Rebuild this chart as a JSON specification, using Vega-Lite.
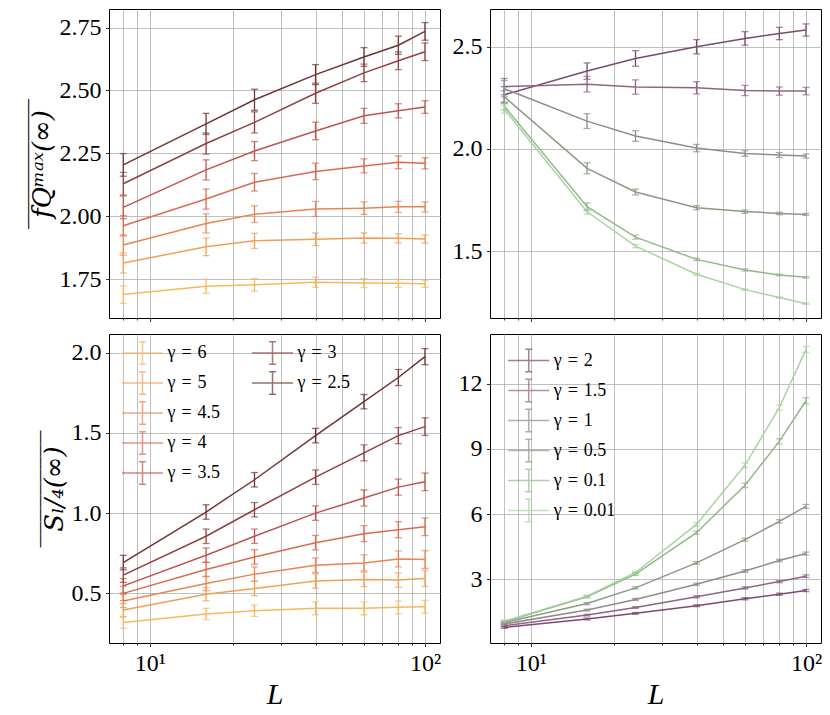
{
  "$schema": "https://vega.github.io/schema/vega-lite/v6.json",
  "background": "white",
  "padding": {"left": 25, "top": 8, "right": 5, "bottom": 5},
  "config": {
    "font": "Liberation Serif",
    "view": {"stroke": "black", "strokeWidth": 1},
    "axis": {
      "domain": false, "grid": true, "gridColor": "#b0b0b0", "gridWidth": 0.8,
      "tickColor": "black", "tickWidth": 0.8, "tickSize": 3.5,
      "labelFont": "Liberation Serif", "labelFontSize": 24, "labelColor": "black", "labelPadding": 4.5,
      "titleFont": "DejaVu Serif", "titleFontWeight": "normal", "titleColor": "black", "titleFontSize": 26,
      "titleLineHeight": 3
    },
    "legend": {
      "orient": "none", "title": null,
      "symbolType": "M-1.58,0H1.58M0,-0.86V0.86M-0.27,-0.86H0.27M-0.27,0.86H0.27",
      "symbolSize": 676, "symbolStrokeWidth": 1.5, "symbolFillColor": "transparent",
      "labelFont": "Liberation Serif", "labelFontSize": 18, "labelColor": "black",
      "labelOffset": 11, "rowPadding": 0, "padding": 0
    }
  },
  "datasets": {
    "d": [
      {"q": "f", "g": "2.5", "L": 8, "v": 2.204, "e": 0.045}, {"q": "f", "g": "2.5", "L": 16, "v": 2.367, "e": 0.042}, {"q": "f", "g": "2.5", "L": 24, "v": 2.463, "e": 0.042}, {"q": "f", "g": "2.5", "L": 40, "v": 2.563, "e": 0.04}, {"q": "f", "g": "2.5", "L": 60, "v": 2.633, "e": 0.037}, {"q": "f", "g": "2.5", "L": 80, "v": 2.68, "e": 0.036}, {"q": "f", "g": "2.5", "L": 100, "v": 2.735, "e": 0.035},
      {"q": "f", "g": "3", "L": 8, "v": 2.129, "e": 0.045}, {"q": "f", "g": "3", "L": 16, "v": 2.289, "e": 0.042}, {"q": "f", "g": "3", "L": 24, "v": 2.373, "e": 0.042}, {"q": "f", "g": "3", "L": 40, "v": 2.489, "e": 0.04}, {"q": "f", "g": "3", "L": 60, "v": 2.57, "e": 0.035}, {"q": "f", "g": "3", "L": 80, "v": 2.618, "e": 0.035}, {"q": "f", "g": "3", "L": 100, "v": 2.654, "e": 0.035},
      {"q": "f", "g": "3.5", "L": 8, "v": 2.035, "e": 0.045}, {"q": "f", "g": "3.5", "L": 16, "v": 2.184, "e": 0.04}, {"q": "f", "g": "3.5", "L": 24, "v": 2.259, "e": 0.038}, {"q": "f", "g": "3.5", "L": 40, "v": 2.339, "e": 0.035}, {"q": "f", "g": "3.5", "L": 60, "v": 2.399, "e": 0.03}, {"q": "f", "g": "3.5", "L": 80, "v": 2.419, "e": 0.028}, {"q": "f", "g": "3.5", "L": 100, "v": 2.434, "e": 0.025},
      {"q": "f", "g": "4", "L": 8, "v": 1.962, "e": 0.04}, {"q": "f", "g": "4", "L": 16, "v": 2.068, "e": 0.04}, {"q": "f", "g": "4", "L": 24, "v": 2.135, "e": 0.035}, {"q": "f", "g": "4", "L": 40, "v": 2.178, "e": 0.033}, {"q": "f", "g": "4", "L": 60, "v": 2.2, "e": 0.028}, {"q": "f", "g": "4", "L": 80, "v": 2.214, "e": 0.025}, {"q": "f", "g": "4", "L": 100, "v": 2.21, "e": 0.022},
      {"q": "f", "g": "4.5", "L": 8, "v": 1.885, "e": 0.04}, {"q": "f", "g": "4.5", "L": 16, "v": 1.971, "e": 0.038}, {"q": "f", "g": "4.5", "L": 24, "v": 2.008, "e": 0.033}, {"q": "f", "g": "4.5", "L": 40, "v": 2.029, "e": 0.03}, {"q": "f", "g": "4.5", "L": 60, "v": 2.032, "e": 0.025}, {"q": "f", "g": "4.5", "L": 80, "v": 2.037, "e": 0.022}, {"q": "f", "g": "4.5", "L": 100, "v": 2.037, "e": 0.02},
      {"q": "f", "g": "5", "L": 8, "v": 1.814, "e": 0.04}, {"q": "f", "g": "5", "L": 16, "v": 1.878, "e": 0.035}, {"q": "f", "g": "5", "L": 24, "v": 1.902, "e": 0.03}, {"q": "f", "g": "5", "L": 40, "v": 1.908, "e": 0.025}, {"q": "f", "g": "5", "L": 60, "v": 1.913, "e": 0.02}, {"q": "f", "g": "5", "L": 80, "v": 1.912, "e": 0.018}, {"q": "f", "g": "5", "L": 100, "v": 1.909, "e": 0.016},
      {"q": "f", "g": "6", "L": 8, "v": 1.688, "e": 0.035}, {"q": "f", "g": "6", "L": 16, "v": 1.721, "e": 0.028}, {"q": "f", "g": "6", "L": 24, "v": 1.727, "e": 0.025}, {"q": "f", "g": "6", "L": 40, "v": 1.737, "e": 0.02}, {"q": "f", "g": "6", "L": 60, "v": 1.734, "e": 0.018}, {"q": "f", "g": "6", "L": 80, "v": 1.733, "e": 0.016}, {"q": "f", "g": "6", "L": 100, "v": 1.731, "e": 0.014},
      {"q": "f", "g": "2", "L": 8, "v": 2.265, "e": 0.04}, {"q": "f", "g": "2", "L": 16, "v": 2.381, "e": 0.04}, {"q": "f", "g": "2", "L": 24, "v": 2.443, "e": 0.038}, {"q": "f", "g": "2", "L": 40, "v": 2.5, "e": 0.035}, {"q": "f", "g": "2", "L": 60, "v": 2.541, "e": 0.033}, {"q": "f", "g": "2", "L": 80, "v": 2.565, "e": 0.03}, {"q": "f", "g": "2", "L": 100, "v": 2.582, "e": 0.03},
      {"q": "f", "g": "1.5", "L": 8, "v": 2.305, "e": 0.04}, {"q": "f", "g": "1.5", "L": 16, "v": 2.317, "e": 0.038}, {"q": "f", "g": "1.5", "L": 24, "v": 2.303, "e": 0.035}, {"q": "f", "g": "1.5", "L": 40, "v": 2.299, "e": 0.03}, {"q": "f", "g": "1.5", "L": 60, "v": 2.286, "e": 0.025}, {"q": "f", "g": "1.5", "L": 80, "v": 2.283, "e": 0.02}, {"q": "f", "g": "1.5", "L": 100, "v": 2.283, "e": 0.018},
      {"q": "f", "g": "1", "L": 8, "v": 2.295, "e": 0.04}, {"q": "f", "g": "1", "L": 16, "v": 2.136, "e": 0.036}, {"q": "f", "g": "1", "L": 24, "v": 2.063, "e": 0.026}, {"q": "f", "g": "1", "L": 40, "v": 2.004, "e": 0.018}, {"q": "f", "g": "1", "L": 60, "v": 1.978, "e": 0.014}, {"q": "f", "g": "1", "L": 80, "v": 1.97, "e": 0.012}, {"q": "f", "g": "1", "L": 100, "v": 1.965, "e": 0.01},
      {"q": "f", "g": "0.5", "L": 8, "v": 2.255, "e": 0.03}, {"q": "f", "g": "0.5", "L": 16, "v": 1.905, "e": 0.027}, {"q": "f", "g": "0.5", "L": 24, "v": 1.789, "e": 0.014}, {"q": "f", "g": "0.5", "L": 40, "v": 1.712, "e": 0.01}, {"q": "f", "g": "0.5", "L": 60, "v": 1.693, "e": 0.008}, {"q": "f", "g": "0.5", "L": 80, "v": 1.684, "e": 0.006}, {"q": "f", "g": "0.5", "L": 100, "v": 1.679, "e": 0.005},
      {"q": "f", "g": "0.1", "L": 8, "v": 2.21, "e": 0.02}, {"q": "f", "g": "0.1", "L": 16, "v": 1.717, "e": 0.019}, {"q": "f", "g": "0.1", "L": 24, "v": 1.568, "e": 0.01}, {"q": "f", "g": "0.1", "L": 40, "v": 1.459, "e": 0.006}, {"q": "f", "g": "0.1", "L": 60, "v": 1.407, "e": 0.005}, {"q": "f", "g": "0.1", "L": 80, "v": 1.383, "e": 0.004}, {"q": "f", "g": "0.1", "L": 100, "v": 1.371, "e": 0.004},
      {"q": "f", "g": "0.01", "L": 8, "v": 2.195, "e": 0.02}, {"q": "f", "g": "0.01", "L": 16, "v": 1.692, "e": 0.012}, {"q": "f", "g": "0.01", "L": 24, "v": 1.524, "e": 0.008}, {"q": "f", "g": "0.01", "L": 40, "v": 1.386, "e": 0.005}, {"q": "f", "g": "0.01", "L": 60, "v": 1.311, "e": 0.004}, {"q": "f", "g": "0.01", "L": 80, "v": 1.272, "e": 0.003}, {"q": "f", "g": "0.01", "L": 100, "v": 1.242, "e": 0.003},
      {"q": "S", "g": "2.5", "L": 8, "v": 0.692, "e": 0.045}, {"q": "S", "g": "2.5", "L": 16, "v": 1.007, "e": 0.045}, {"q": "S", "g": "2.5", "L": 24, "v": 1.208, "e": 0.045}, {"q": "S", "g": "2.5", "L": 40, "v": 1.483, "e": 0.045}, {"q": "S", "g": "2.5", "L": 60, "v": 1.694, "e": 0.045}, {"q": "S", "g": "2.5", "L": 80, "v": 1.845, "e": 0.05}, {"q": "S", "g": "2.5", "L": 100, "v": 1.975, "e": 0.05},
      {"q": "S", "g": "3", "L": 8, "v": 0.614, "e": 0.045}, {"q": "S", "g": "3", "L": 16, "v": 0.856, "e": 0.045}, {"q": "S", "g": "3", "L": 24, "v": 1.021, "e": 0.045}, {"q": "S", "g": "3", "L": 40, "v": 1.224, "e": 0.045}, {"q": "S", "g": "3", "L": 60, "v": 1.375, "e": 0.05}, {"q": "S", "g": "3", "L": 80, "v": 1.483, "e": 0.05}, {"q": "S", "g": "3", "L": 100, "v": 1.539, "e": 0.055},
      {"q": "S", "g": "3.5", "L": 8, "v": 0.547, "e": 0.045}, {"q": "S", "g": "3.5", "L": 16, "v": 0.738, "e": 0.045}, {"q": "S", "g": "3.5", "L": 24, "v": 0.856, "e": 0.045}, {"q": "S", "g": "3.5", "L": 40, "v": 1.0, "e": 0.045}, {"q": "S", "g": "3.5", "L": 60, "v": 1.094, "e": 0.05}, {"q": "S", "g": "3.5", "L": 80, "v": 1.162, "e": 0.05}, {"q": "S", "g": "3.5", "L": 100, "v": 1.195, "e": 0.055},
      {"q": "S", "g": "4", "L": 8, "v": 0.5, "e": 0.045}, {"q": "S", "g": "4", "L": 16, "v": 0.649, "e": 0.045}, {"q": "S", "g": "4", "L": 24, "v": 0.727, "e": 0.045}, {"q": "S", "g": "4", "L": 40, "v": 0.816, "e": 0.045}, {"q": "S", "g": "4", "L": 60, "v": 0.872, "e": 0.05}, {"q": "S", "g": "4", "L": 80, "v": 0.897, "e": 0.05}, {"q": "S", "g": "4", "L": 100, "v": 0.915, "e": 0.055},
      {"q": "S", "g": "4.5", "L": 8, "v": 0.452, "e": 0.04}, {"q": "S", "g": "4.5", "L": 16, "v": 0.562, "e": 0.045}, {"q": "S", "g": "4.5", "L": 24, "v": 0.62, "e": 0.045}, {"q": "S", "g": "4.5", "L": 40, "v": 0.676, "e": 0.045}, {"q": "S", "g": "4.5", "L": 60, "v": 0.69, "e": 0.05}, {"q": "S", "g": "4.5", "L": 80, "v": 0.715, "e": 0.05}, {"q": "S", "g": "4.5", "L": 100, "v": 0.711, "e": 0.055},
      {"q": "S", "g": "5", "L": 8, "v": 0.396, "e": 0.04}, {"q": "S", "g": "5", "L": 16, "v": 0.494, "e": 0.04}, {"q": "S", "g": "5", "L": 24, "v": 0.531, "e": 0.045}, {"q": "S", "g": "5", "L": 40, "v": 0.577, "e": 0.045}, {"q": "S", "g": "5", "L": 60, "v": 0.587, "e": 0.045}, {"q": "S", "g": "5", "L": 80, "v": 0.583, "e": 0.045}, {"q": "S", "g": "5", "L": 100, "v": 0.593, "e": 0.05},
      {"q": "S", "g": "6", "L": 8, "v": 0.318, "e": 0.035}, {"q": "S", "g": "6", "L": 16, "v": 0.372, "e": 0.035}, {"q": "S", "g": "6", "L": 24, "v": 0.392, "e": 0.035}, {"q": "S", "g": "6", "L": 40, "v": 0.407, "e": 0.04}, {"q": "S", "g": "6", "L": 60, "v": 0.407, "e": 0.04}, {"q": "S", "g": "6", "L": 80, "v": 0.413, "e": 0.04}, {"q": "S", "g": "6", "L": 100, "v": 0.417, "e": 0.04},
      {"q": "S", "g": "2", "L": 8, "v": 0.78, "e": 0.04}, {"q": "S", "g": "2", "L": 16, "v": 1.17, "e": 0.04}, {"q": "S", "g": "2", "L": 24, "v": 1.43, "e": 0.04}, {"q": "S", "g": "2", "L": 40, "v": 1.78, "e": 0.04}, {"q": "S", "g": "2", "L": 60, "v": 2.1, "e": 0.05}, {"q": "S", "g": "2", "L": 80, "v": 2.31, "e": 0.05}, {"q": "S", "g": "2", "L": 100, "v": 2.48, "e": 0.05},
      {"q": "S", "g": "1.5", "L": 8, "v": 0.86, "e": 0.04}, {"q": "S", "g": "1.5", "L": 16, "v": 1.35, "e": 0.04}, {"q": "S", "g": "1.5", "L": 24, "v": 1.7, "e": 0.04}, {"q": "S", "g": "1.5", "L": 40, "v": 2.19, "e": 0.05}, {"q": "S", "g": "1.5", "L": 60, "v": 2.6, "e": 0.05}, {"q": "S", "g": "1.5", "L": 80, "v": 2.89, "e": 0.05}, {"q": "S", "g": "1.5", "L": 100, "v": 3.14, "e": 0.06},
      {"q": "S", "g": "1", "L": 8, "v": 0.94, "e": 0.04}, {"q": "S", "g": "1", "L": 16, "v": 1.58, "e": 0.04}, {"q": "S", "g": "1", "L": 24, "v": 2.07, "e": 0.05}, {"q": "S", "g": "1", "L": 40, "v": 2.77, "e": 0.05}, {"q": "S", "g": "1", "L": 60, "v": 3.38, "e": 0.06}, {"q": "S", "g": "1", "L": 80, "v": 3.86, "e": 0.06}, {"q": "S", "g": "1", "L": 100, "v": 4.18, "e": 0.07},
      {"q": "S", "g": "0.5", "L": 8, "v": 1.0, "e": 0.04}, {"q": "S", "g": "0.5", "L": 16, "v": 1.88, "e": 0.05}, {"q": "S", "g": "0.5", "L": 24, "v": 2.6, "e": 0.05}, {"q": "S", "g": "0.5", "L": 40, "v": 3.75, "e": 0.06}, {"q": "S", "g": "0.5", "L": 60, "v": 4.82, "e": 0.07}, {"q": "S", "g": "0.5", "L": 80, "v": 5.66, "e": 0.08}, {"q": "S", "g": "0.5", "L": 100, "v": 6.35, "e": 0.09},
      {"q": "S", "g": "0.1", "L": 8, "v": 1.04, "e": 0.05}, {"q": "S", "g": "0.1", "L": 16, "v": 2.19, "e": 0.05}, {"q": "S", "g": "0.1", "L": 24, "v": 3.23, "e": 0.06}, {"q": "S", "g": "0.1", "L": 40, "v": 5.14, "e": 0.08}, {"q": "S", "g": "0.1", "L": 60, "v": 7.32, "e": 0.1}, {"q": "S", "g": "0.1", "L": 80, "v": 9.34, "e": 0.12}, {"q": "S", "g": "0.1", "L": 100, "v": 11.21, "e": 0.14},
      {"q": "S", "g": "0.01", "L": 8, "v": 1.07, "e": 0.05}, {"q": "S", "g": "0.01", "L": 16, "v": 2.22, "e": 0.05}, {"q": "S", "g": "0.01", "L": 24, "v": 3.31, "e": 0.06}, {"q": "S", "g": "0.01", "L": 40, "v": 5.52, "e": 0.08}, {"q": "S", "g": "0.01", "L": 60, "v": 8.24, "e": 0.1}, {"q": "S", "g": "0.01", "L": 80, "v": 10.9, "e": 0.12}, {"q": "S", "g": "0.01", "L": 100, "v": 13.57, "e": 0.14}
    ]
  },
  "data": {"name": "d"},
  "columns": 2,
  "bounds": "flush",
  "spacing": {"row": 16, "column": 50},
  "resolve": {"scale": {"color": "independent"}},
  "concat": [
    {
      "width": 331, "height": 309,
      "transform": [{"filter": {"field": "q", "equal": "f"}}, {"filter": {"field": "g", "oneOf": ["6", "5", "4.5", "4", "3.5", "3", "2.5"]}}],
      "encoding": {
        "x": {"field": "L", "type": "quantitative", "scale": {"type": "log", "domain": [7.1, 113.4], "nice": false},
          "axis": {"values": [8, 9, 10, 20, 30, 40, 50, 60, 70, 80, 90, 100], "labels": false, "title": null,
            "tickSize": {"condition": {"test": "datum.value == 10 || datum.value == 100", "value": 3.5}, "value": 2}}},
        "y": {"field": "v", "type": "quantitative", "scale": {"domain": [1.595, 2.824], "nice": false, "zero": false},
          "axis": {"values": [1.75, 2, 2.25, 2.5, 2.75], "format": ".2f", "title": ["‾‾‾‾‾‾‾‾‾‾", "fQᵐᵃˣ(∞)"], "titleFontStyle": "italic"}},
        "color": {"field": "g", "type": "nominal", "legend": null,
          "scale": {"domain": ["6", "5", "4.5", "4", "3.5", "3", "2.5"], "range": ["#f5b95b", "#f0a055", "#ea8452", "#dc6a4f", "#c0544b", "#914040", "#6e3530"]}}
      },
      "layer": [
        {"mark": {"type": "line", "strokeWidth": 1.5}},
        {"mark": {"type": "errorbar", "ticks": {"size": 7}, "thickness": 1.3}, "encoding": {"yError": {"field": "e"}}}
      ]
    },
    {
      "width": 331, "height": 309,
      "transform": [{"filter": {"field": "q", "equal": "f"}}, {"filter": {"field": "g", "oneOf": ["2", "1.5", "1", "0.5", "0.1", "0.01"]}}],
      "encoding": {
        "x": {"field": "L", "type": "quantitative", "scale": {"type": "log", "domain": [7.1, 113.4], "nice": false},
          "axis": {"values": [8, 9, 10, 20, 30, 40, 50, 60, 70, 80, 90, 100], "labels": false, "title": null,
            "tickSize": {"condition": {"test": "datum.value == 10 || datum.value == 100", "value": 3.5}, "value": 2}}},
        "y": {"field": "v", "type": "quantitative", "scale": {"domain": [1.172, 2.685], "nice": false, "zero": false},
          "axis": {"values": [1.5, 2, 2.5], "format": ".1f", "title": null}},
        "color": {"field": "g", "type": "nominal", "legend": null,
          "scale": {"domain": ["2", "1.5", "1", "0.5", "0.1", "0.01"], "range": ["#7a4a72", "#8e6585", "#948a8e", "#8a9a84", "#92b88a", "#a8d4a0"]}}
      },
      "layer": [
        {"mark": {"type": "line", "strokeWidth": 1.5}},
        {"mark": {"type": "errorbar", "ticks": {"size": 7}, "thickness": 1.3}, "encoding": {"yError": {"field": "e"}}}
      ]
    },
    {
      "width": 331, "height": 309,
      "transform": [{"filter": {"field": "q", "equal": "S"}}],
      "encoding": {
        "x": {"field": "L", "type": "quantitative", "scale": {"type": "log", "domain": [7.1, 113.4], "nice": false},
          "axis": {"values": [8, 9, 10, 20, 30, 40, 50, 60, 70, 80, 90, 100], "labelFlush": false,
            "labelExpr": "datum.value == 10 ? '10¹' : (datum.value == 100 ? '10²' : '')",
            "title": "L", "titleFont": "Liberation Serif", "titleFontStyle": "italic", "titleFontSize": 30,
            "tickSize": {"condition": {"test": "datum.value == 10 || datum.value == 100", "value": 3.5}, "value": 2}}},
        "y": {"field": "v", "type": "quantitative", "scale": {"domain": [0.191, 2.116], "nice": false, "zero": false},
          "axis": {"values": [0.5, 1, 1.5, 2], "format": ".1f", "title": ["‾‾‾‾‾‾‾‾‾", "Sₗ/₄(∞)"], "titleFontStyle": "italic"}}
      },
      "layer": [
        {
          "transform": [{"filter": {"field": "g", "oneOf": ["6", "5", "4.5", "4", "3.5"]}}],
          "encoding": {"color": {"field": "g", "type": "nominal",
            "scale": {"domain": ["6", "5", "4.5", "4", "3.5"], "range": ["#f5b95b", "#f0a055", "#ea8452", "#dc6a4f", "#c0544b"]},
            "legend": {"legendX": 19.5, "legendY": 5, "labelExpr": "'γ\u2004=\u2004' + datum.label"}}},
          "layer": [
            {"mark": {"type": "line", "strokeWidth": 1.5}},
            {"mark": {"type": "errorbar", "ticks": {"size": 7}, "thickness": 1.3}, "encoding": {"yError": {"field": "e"}}}
          ]
        },
        {
          "transform": [{"filter": {"field": "g", "oneOf": ["3", "2.5"]}}],
          "encoding": {"color": {"field": "g", "type": "nominal",
            "scale": {"domain": ["3", "2.5"], "range": ["#914040", "#6e3530"]},
            "legend": {"legendX": 149.5, "legendY": 5, "labelExpr": "'γ\u2004=\u2004' + datum.label"}}},
          "layer": [
            {"mark": {"type": "line", "strokeWidth": 1.5}},
            {"mark": {"type": "errorbar", "ticks": {"size": 7}, "thickness": 1.3}, "encoding": {"yError": {"field": "e"}}}
          ]
        }
      ],
      "resolve": {"scale": {"color": "independent"}}
    },
    {
      "width": 331, "height": 309,
      "transform": [{"filter": {"field": "q", "equal": "S"}}, {"filter": {"field": "g", "oneOf": ["2", "1.5", "1", "0.5", "0.1", "0.01"]}}],
      "encoding": {
        "x": {"field": "L", "type": "quantitative", "scale": {"type": "log", "domain": [7.1, 113.4], "nice": false},
          "axis": {"values": [8, 9, 10, 20, 30, 40, 50, 60, 70, 80, 90, 100], "labelFlush": false,
            "labelExpr": "datum.value == 10 ? '10¹' : (datum.value == 100 ? '10²' : '')",
            "title": "L", "titleFont": "Liberation Serif", "titleFontStyle": "italic", "titleFontSize": 30,
            "tickSize": {"condition": {"test": "datum.value == 10 || datum.value == 100", "value": 3.5}, "value": 2}}},
        "y": {"field": "v", "type": "quantitative", "scale": {"domain": [0.066, 14.28], "nice": false, "zero": false},
          "axis": {"values": [3, 6, 9, 12], "format": "d", "title": null}},
        "color": {"field": "g", "type": "nominal",
          "scale": {"domain": ["2", "1.5", "1", "0.5", "0.1", "0.01"], "range": ["#7a4a72", "#8e6585", "#948a8e", "#8a9a84", "#92b88a", "#a8d4a0"]},
          "legend": {"legendX": 24.7, "legendY": 12.5, "labelExpr": "'γ\u2004=\u2004' + datum.label"}}
      },
      "layer": [
        {"mark": {"type": "line", "strokeWidth": 1.5}},
        {"mark": {"type": "errorbar", "ticks": {"size": 7}, "thickness": 1.3}, "encoding": {"yError": {"field": "e"}}}
      ]
    }
  ]
}
